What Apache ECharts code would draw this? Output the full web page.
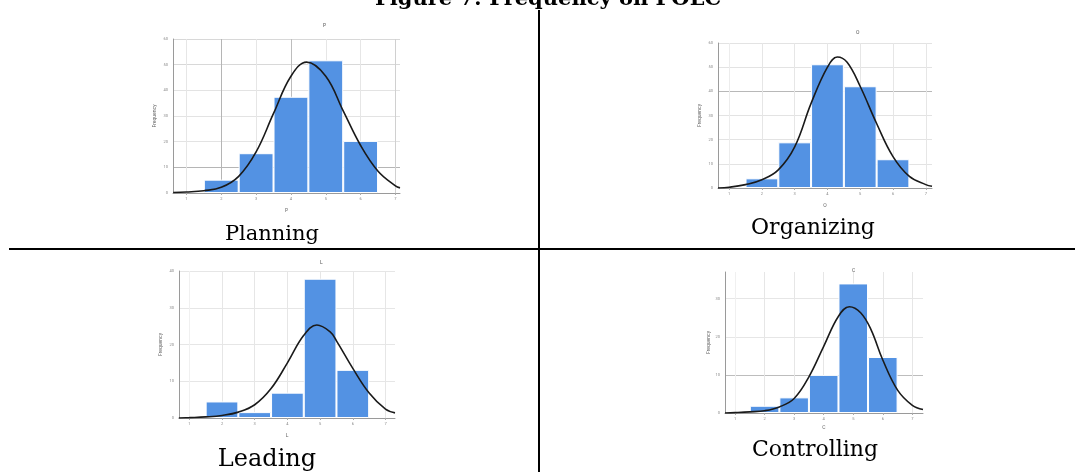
<!DOCTYPE html>
<html>
<head>
<meta charset="utf-8">
<script src="https://cdn.jsdelivr.net/npm/echarts@6/dist/echarts.min.js"></script>
<style>
  html, body { margin: 0; padding: 0; background: #fff; }
  #chart { width: 1075px; height: 472px; }
</style>
</head>
<body>
<div id="chart"></div>
<script>
// histogram bins (x value of each bar centre)
const bins = [2, 3, 4, 5, 6];
const xTicks = [1, 2, 3, 4, 5, 6, 7];

const planningFreq = [5.2, 15.5, 37.5, 51.7, 20.3];
const organizingFreq = [4, 18.9, 51.2, 42.1, 11.9];
const leadingFreq = [4.5, 1.6, 6.9, 37.9, 13.1];
const controllingFreq = [1.9, 4.1, 10, 34, 14.7];

// fitted normal curves as [x, frequency]
const planningCurve = [[0.62, 0.2], [1, 0.4], [1.5, 0.9], [2, 2.2], [2.5, 6.5], [3, 16], [3.5, 31], [4, 45.5], [4.45, 51], [5, 45.5], [5.5, 32], [6, 18.5], [6.5, 8.5], [7, 2.8], [7.13, 2]];
const organizingCurve = [[0.66, 0], [1, 0.3], [1.5, 1.4], [2, 3.4], [2.5, 7.5], [3, 17], [3.5, 35], [4, 50], [4.3, 54.2], [4.6, 52], [5, 42], [5.5, 26.7], [6, 13], [6.5, 4.8], [7, 1.4], [7.19, 0.7]];
const leadingCurve = [[0.68, 0], [1, 0.1], [1.5, 0.3], [2, 0.7], [2.5, 1.6], [3, 3.6], [3.5, 8], [4, 15], [4.5, 22.5], [4.9, 25.3], [5.3, 23.5], [5.5, 21], [6, 13.5], [6.5, 6.8], [7, 2.4], [7.29, 1.4]];
const controllingCurve = [[0.66, 0], [1, 0.1], [1.5, 0.3], [2, 0.6], [2.5, 1.6], [3, 3.8], [3.5, 9.5], [4, 17.5], [4.5, 25.4], [4.87, 27.9], [5.25, 26.3], [5.6, 21.9], [6, 13.9], [6.5, 6], [7, 2], [7.36, 0.9]];

const panels = [
  { name: "P", freq: planningFreq, curve: planningCurve, grid: { left: 173, right: 675, top: 39, bottom: 279 },
    xMin: 0.615, xMax: 7.13, yMax: 60, xGap: 15, yGap: 16,
    xLines: ["#e6e6e6", "#b5b5b5", "#e6e6e6", "#bdbdbd", "#e6e6e6", "#e6e6e6", "#d0d0d0"],
    yLines: ["#ddd", "#b5b5b5", "#e3e3e3", "#e3e3e3", "#e3e3e3", "#d8d8d8", "#d8d8d8"],
    title: { left: 318, top: 18 } },
  { name: "O", freq: organizingFreq, curve: organizingCurve, grid: { left: 718, right: 143, top: 43, bottom: 284 },
    xMin: 0.66, xMax: 7.19, yMax: 60, xGap: 15, yGap: 16,
    xLines: ["#ececec", "#e6e6e6", "#e6e6e6", "#e6e6e6", "#e6e6e6", "#e6e6e6", "#e6e6e6"],
    yLines: ["#ddd", "#e3e3e3", "#e3e3e3", "#e3e3e3", "#b8b8b8", "#e3e3e3", "#e3e3e3"],
    title: { left: 851, top: 25 } },
  { name: "L", freq: leadingFreq, curve: leadingCurve, grid: { left: 179, right: 680, top: 271, bottom: 54 },
    xMin: 0.685, xMax: 7.29, yMax: 40, xGap: 15, yGap: 16,
    xLines: ["#f0f0f0", "#e6e6e6", "#e6e6e6", "#e6e6e6", "#e6e6e6", "#e6e6e6", "#e6e6e6"],
    yLines: ["#ddd", "#e6e6e6", "#e6e6e6", "#e6e6e6", "#e6e6e6"],
    title: { left: 315, top: 255 } },
  { name: "C", freq: controllingFreq, curve: controllingCurve, grid: { left: 725, right: 152, top: 272, bottom: 59 },
    xMin: 0.66, xMax: 7.36, yMax: 37, xGap: 12, yGap: 13,
    xLines: ["#f0f0f0", "#e6e6e6", "#e6e6e6", "#e6e6e6", "#e6e6e6", "#e6e6e6", "#e6e6e6"],
    yLines: ["#ddd", "#bdbdbd", "#e6e6e6", "#e6e6e6"],
    title: { left: 847, top: 263 } },
];

const chart = echarts.init(document.getElementById("chart"), null, { renderer: "canvas" });

const grids = [];
const xAxes = [];
const yAxes = [];
const series = [];
const titles = [];

panels.forEach((p, i) => {
  const roundMax = p.yMax % 10 === 0;
  grids.push(p.grid);
  titles.push({
    text: p.name,
    left: p.title.left,
    top: p.title.top,
    textStyle: { fontSize: 5, fontWeight: "normal", color: "#555", fontFamily: "Roboto" },
  });
  xAxes.push({
    type: "value",
    gridIndex: i,
    min: p.xMin,
    max: p.xMax,
    name: p.name,
    nameLocation: "middle",
    nameGap: p.xGap,
    nameTextStyle: { fontSize: 5, color: "#666", fontFamily: "Roboto" },
    axisLine: { show: true, lineStyle: { color: "#9a9a9a", width: 1 } },
    axisTick: { show: true, length: 2, customValues: xTicks, lineStyle: { color: "#aaa" } },
    axisLabel: { customValues: xTicks, fontSize: 4, color: "#888", margin: 4, fontFamily: "Roboto" },
    splitLine: { show: true, lineStyle: { color: p.xLines, width: 1 } },
  });
  yAxes.push({
    type: "value",
    gridIndex: i,
    min: 0,
    max: p.yMax,
    interval: 10,
    name: "Frequency",
    nameLocation: "middle",
    nameGap: p.yGap,
    nameRotate: 90,
    nameTextStyle: { fontSize: 5, color: "#666", fontFamily: "Roboto" },
    axisLine: { show: true, lineStyle: { color: "#9a9a9a", width: 1 } },
    axisTick: { show: false },
    axisLabel: { fontSize: 4, color: "#888", margin: 5, fontFamily: "Roboto", showMaxLabel: roundMax },
    splitLine: { show: true, showMaxLine: roundMax, lineStyle: { color: p.yLines, width: 1 } },
  });
  series.push({
    type: "bar",
    xAxisIndex: i,
    yAxisIndex: i,
    barWidth: "100%",
    data: bins.map((b, k) => [b, p.freq[k]]),
    itemStyle: { color: "#5392e3", borderColor: "#fff", borderWidth: 1 },
    silent: true,
  });
  series.push({
    type: "line",
    xAxisIndex: i,
    yAxisIndex: i,
    smooth: 0.4,
    showSymbol: false,
    data: p.curve,
    lineStyle: { color: "#1a1a1a", width: 1.6 },
    silent: true,
    z: 5,
  });
});

chart.setOption({
  animation: false,
  backgroundColor: "#fff",
  title: titles,
  grid: grids,
  xAxis: xAxes,
  yAxis: yAxes,
  series: series,
  graphic: [
    // table rules
    { type: "line", shape: { x1: 539, y1: 10, x2: 539, y2: 472 }, style: { stroke: "#000", lineWidth: 2 } },
    { type: "line", shape: { x1: 9, y1: 249, x2: 1075, y2: 249 }, style: { stroke: "#000", lineWidth: 2 } },
    // figure title (cut off at the top like the source)
    { type: "text", x: 548, y: 0, style: { text: "Figure 7: Frequency on POLC", align: "center", verticalAlign: "middle",
        font: 'bold 21px "DejaVu Serif"', fill: "#000" } },
    // captions
    { type: "text", x: 272, y: 235, style: { text: "Planning", align: "center", verticalAlign: "middle", font: '21px "DejaVu Serif"', fill: "#000" } },
    { type: "text", x: 813, y: 228, style: { text: "Organizing", align: "center", verticalAlign: "middle", font: '22px "DejaVu Serif"', fill: "#000" } },
    { type: "text", x: 267, y: 460, style: { text: "Leading", align: "center", verticalAlign: "middle", font: '24px "DejaVu Serif"', fill: "#000" } },
    { type: "text", x: 815, y: 450, style: { text: "Controlling", align: "center", verticalAlign: "middle", font: '22px "DejaVu Serif"', fill: "#000" } },
  ],
});
</script>
</body>
</html>
